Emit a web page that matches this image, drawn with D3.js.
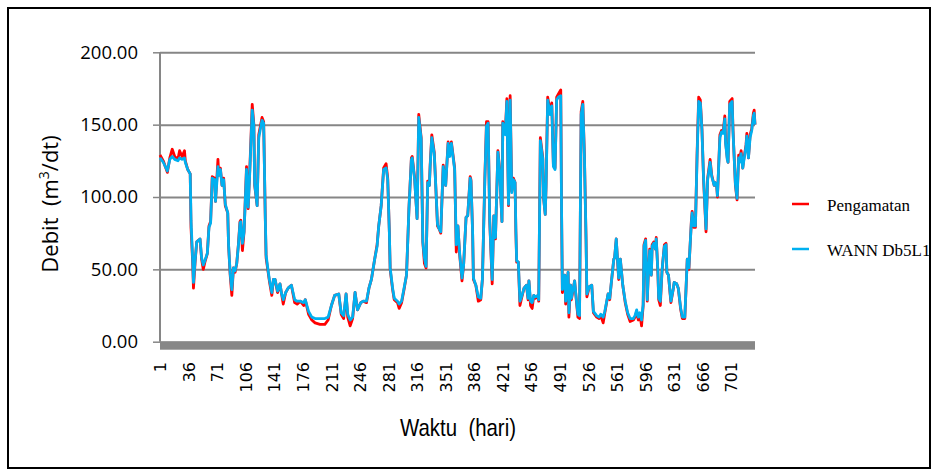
<!DOCTYPE html>
<html>
<head>
<meta charset="utf-8">
<script src="https://cdn.jsdelivr.net/npm/d3@7"></script>
<style>
  body { margin: 0; background: #fff; }
  svg { display: block; }
  text { white-space: pre; }
</style>
</head>
<body>
<div id="chart"></div>
<script>
var days = [1,5,10,13,16,19,23,25,28,31,32,35,38,39,41,42,44,46,50,52,54,56,59,61,63,65,68,69,72,73,75,77,79,81,84,85,87,89,91,93,95,97,99,100,102,104,107,109,111,114,116,117,120,122,126,128,130,131,133,135,138,140,142,145,148,150,152,155,158,162,166,169,173,177,179,183,187,191,197,203,207,211,215,220,223,226,229,231,234,237,240,243,247,250,254,257,260,264,267,269,272,275,278,280,282,283,286,288,292,294,297,300,303,305,306,309,310,313,314,316,318,321,323,325,327,329,331,332,334,337,339,341,343,345,348,351,354,356,358,362,364,366,368,371,373,376,378,381,382,384,385,388,391,394,396,399,401,403,405,408,410,412,415,417,420,421,424,426,428,430,432,434,436,437,438,440,442,444,447,450,452,453,455,457,459,461,464,465,467,470,471,473,474,476,479,481,483,485,487,489,492,493,494,497,498,501,502,504,505,509,511,513,515,517,519,521,523,524,527,530,532,536,539,541,544,546,550,552,554,557,558,560,563,565,568,571,574,577,581,583,585,587,589,591,593,594,596,598,599,601,603,604,606,608,609,611,612,614,616,617,619,621,622,624,626,627,630,631,634,636,639,641,644,647,649,652,653,655,657,659,661,663,665,667,670,672,675,677,680,681,683,684,687,689,691,693,694,696,697,699,702,703,706,708,710,711,713,715,716,719,720,722,724,726,728,729,730];

var pengamatan = [129,125,117,127,133,128,126,132,128,132,125,119,116,79,55,37,55,69,71,57,50,55,61,80,83,114,113,97,126,115,120,108,113,94,89,67,46,32,51,48,54,67,83,84,63,76,121,92,119,164,150,108,94,143,155,152,85,58,50,42,32,43,43,34,40,33,26,34,37,39,27,26,28,25,29,19,15,13,12,12,15,25,32,33,19,16,33,17,11,16,34,22,27,28,27,37,43,57,67,80,94,120,123,113,76,50,36,29,27,23,27,36,46,76,92,127,128,113,103,85,157,141,69,54,51,111,108,122,143,131,106,80,78,75,122,108,138,129,138,120,62,80,61,42,53,86,87,114,112,76,43,39,28,29,43,113,152,152,83,40,87,71,132,120,83,152,144,168,94,170,104,113,110,76,55,55,25,30,37,39,29,42,25,23,32,30,32,28,141,127,99,88,108,169,159,165,122,120,169,171,174,90,34,46,26,48,17,39,29,42,29,17,16,159,166,129,71,31,38,39,20,17,16,18,13,20,33,29,41,57,58,71,43,57,39,27,19,14,15,17,21,15,19,11,25,67,71,28,43,64,46,67,69,64,72,48,29,25,48,55,67,68,48,46,33,27,37,41,40,37,22,16,16,57,50,83,90,79,79,129,169,167,147,112,76,113,126,115,108,110,108,100,143,146,145,156,138,127,124,166,168,147,108,98,129,125,132,120,125,136,144,127,143,147,158,160,150];

var wann = [127,124,118,126,128,126,125,127,126,127,124,119,116,84,57,41,56,69,71,58,53,56,61,79,82,113,112,97,121,115,119,108,112,95,89,67,47,36,51,49,54,66,82,83,68,76,119,93,117,160,149,109,94,141,153,151,86,60,51,43,34,43,43,35,40,33,29,34,37,39,29,28,28,27,29,21,17,16,16,16,17,25,32,33,20,18,33,19,15,17,34,22,27,28,28,37,43,57,66,80,94,119,120,112,76,51,37,30,28,26,28,37,46,76,92,126,127,112,103,85,155,140,69,58,52,110,108,121,141,130,106,81,78,76,121,108,137,128,137,119,67,80,62,44,53,86,87,113,111,76,44,39,31,30,43,112,149,151,83,43,87,72,131,119,83,151,143,166,95,167,103,112,110,78,56,55,28,31,37,39,30,42,28,27,32,31,32,29,139,126,99,88,107,167,157,163,121,119,167,169,170,90,36,46,28,48,20,39,30,42,30,19,18,157,164,128,71,33,38,39,21,18,17,19,17,21,33,30,41,57,58,71,44,57,39,28,20,16,16,18,22,17,20,15,26,66,70,29,43,63,46,66,68,64,71,49,30,28,48,55,66,67,48,46,34,28,37,41,40,37,23,17,17,57,51,82,89,80,80,127,166,165,146,113,78,112,124,114,108,110,108,101,141,145,144,154,137,126,124,164,166,146,109,99,127,124,130,120,124,135,142,127,141,146,156,158,150];

var yTicks = [0, 50, 100, 150, 200];
var xTicks = [1,36,71,106,141,176,211,246,281,316,351,386,421,456,491,526,561,596,631,666,701];
var seriesNames = ["Pengamatan", "WANN Db5L1"];
var seriesColors = ["#ff0000", "#00b0f0"];

var width = 937, height = 474;
var plotL = 160, plotR = 755, plotT = 52.3, plotB = 341.7;

var svg = d3.select("#chart").append("svg")
    .attr("width", width)
    .attr("height", height);

// outer frame
svg.append("rect")
    .attr("x", 8).attr("y", 8)
    .attr("width", 922).attr("height", 460)
    .attr("fill", "none")
    .attr("stroke", "#000")
    .attr("stroke-width", 2);

var x = d3.scaleLinear().domain([1, 730]).range([plotL, plotR]);
var y = d3.scaleLinear().domain([0, 200]).range([plotB, plotT]);

// gridlines
svg.append("g")
    .attr("transform", "translate(" + plotL + ",0)")
    .call(d3.axisLeft(y).tickValues(yTicks).tickSize(-(plotR - plotL)).tickFormat(""))
    .call(function(g) {
      g.select(".domain").remove();
      g.selectAll("line").attr("stroke", "#868686").attr("stroke-width", 2);
    });

// y axis with labels
svg.append("g")
    .attr("transform", "translate(" + plotL + ",0)")
    .call(d3.axisLeft(y).tickValues(yTicks).tickSize(7).tickPadding(15).tickFormat(d3.format(".2f")))
    .call(function(g) {
      g.select(".domain").attr("stroke", "#868686").attr("stroke-width", 2)
        .attr("d", "M0," + plotT + "V" + plotB);
      g.selectAll("line").attr("stroke", "#868686").attr("stroke-width", 1.5);
      g.selectAll("text")
        .attr("font-family", "'Open Sans', sans-serif")
        .attr("font-size", 18.5)
        .attr("fill", "#000");
    });

// floor bar
svg.append("rect")
    .attr("x", plotL)
    .attr("y", y(0))
    .attr("width", plotR - plotL)
    .attr("height", 8)
    .attr("fill", "#878787");

// lines
var line = d3.line()
    .x(function(d) { return x(d[0]); })
    .y(function(d) { return y(d[1]); });

[pengamatan, wann].forEach(function(vals, i) {
  svg.append("path")
      .datum(days.map(function(d, j) { return [d, vals[j]]; }))
      .attr("fill", "none")
      .attr("stroke", seriesColors[i])
      .attr("stroke-width", 2.8)
      .attr("stroke-linejoin", "round")
      .attr("d", line);
});

// x axis labels
svg.append("g")
    .attr("transform", "translate(0,362)")
    .call(d3.axisBottom(x).tickValues(xTicks).tickSize(0).tickPadding(0))
    .call(function(g) {
      g.select(".domain").remove();
      g.selectAll("text")
        .attr("font-family", "'DejaVu Sans', sans-serif")
        .attr("font-size", 16)
        .attr("fill", "#000")
        .attr("text-anchor", "end")
        .attr("transform", "rotate(-90)")
        .attr("x", 0)
        .attr("y", 0)
        .attr("dy", "0.35em");
    });

// axis titles
svg.append("text")
    .attr("transform", "translate(458,436) scale(0.85,1)")
    .attr("text-anchor", "middle")
    .attr("font-family", "'Liberation Sans Narrow', 'Liberation Sans', sans-serif")
    .attr("font-size", 24)
    .text("Waktu  (hari)");

var yt = svg.append("text")
    .attr("transform", "translate(58,204) rotate(-90)")
    .attr("text-anchor", "middle")
    .attr("font-family", "'Open Sans', sans-serif")
    .attr("font-size", 22);
yt.append("tspan").text("Debit  (m");
yt.append("tspan").attr("dy", -9).attr("font-size", 14).text("3");
yt.append("tspan").attr("dy", 9).text("/dt)");

// legend
var legend = svg.append("g");
seriesNames.forEach(function(name, i) {
  var ly = 204 + i * 45;
  legend.append("line")
      .attr("x1", 792).attr("x2", 809)
      .attr("y1", ly).attr("y2", ly)
      .attr("stroke", seriesColors[i])
      .attr("stroke-width", 2.5);
  legend.append("text")
      .attr("x", 827).attr("y", ly + 7)
      .attr("font-family", "'Liberation Serif', 'Times New Roman', serif")
      .attr("font-size", 17)
      .text(name);
});
</script>
</body>
</html>
